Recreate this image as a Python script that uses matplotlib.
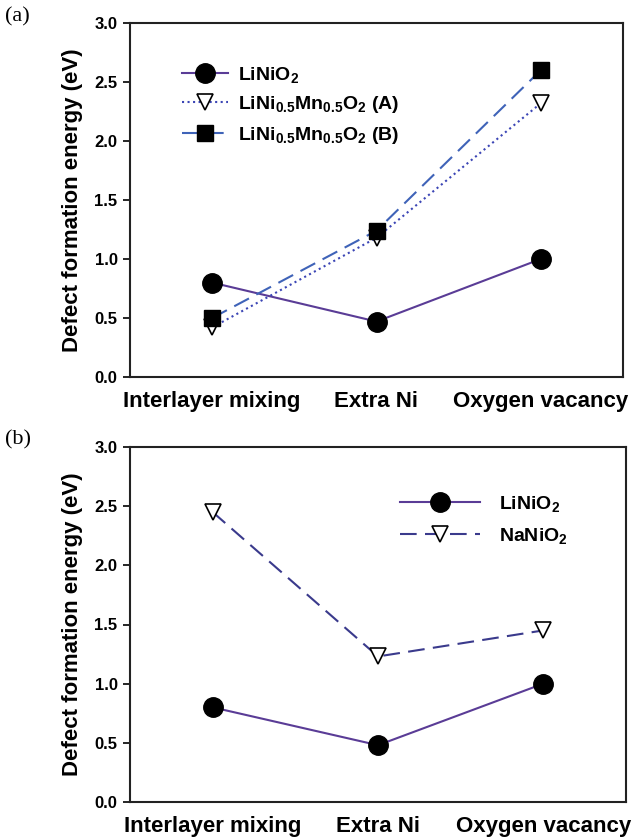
import matplotlib
matplotlib.use("Agg")
import matplotlib.pyplot as plt

plt.rcParams['font.family'] = ['Liberation Sans', 'DejaVu Sans']
plt.rcParams['font.weight'] = 'bold'
plt.rcParams['mathtext.fontset'] = 'custom'
plt.rcParams['mathtext.bf'] = 'Liberation Sans:bold'
plt.rcParams['mathtext.rm'] = 'Liberation Sans:bold'
plt.rcParams['mathtext.default'] = 'bf'

categories = ["Interlayer mixing", "Extra Ni", "Oxygen vacancy"]
yticks = [0.0, 0.5, 1.0, 1.5, 2.0, 2.5, 3.0]

# Panel (a)
a_linio2 = [0.80, 0.47, 1.00]
a_lnmo_A = [0.42, 1.18, 2.32]
a_lnmo_B = [0.50, 1.24, 2.60]

# Panel (b)
b_linio2 = [0.80, 0.48, 1.00]
b_nanio2 = [2.45, 1.23, 1.45]

W, H = 633, 839
fig = plt.figure(figsize=(W / 100, H / 100), dpi=100)

def px_axes(l, t, r, b):
    return fig.add_axes([l / W, 1 - b / H, (r - l) / W, (b - t) / H])

ax1 = px_axes(130, 23, 623, 377)
ax2 = px_axes(130, 447, 626, 802)

purple = '#5a3c96'
blueA = '#3b45b5'
blueB = '#3f63b8'
navy = '#3a3a8c'

x = list(range(len(categories)))

ax1.plot(x, a_linio2, '-', color=purple, lw=1.5, marker='o', ms=14,
         mfc='black', mec='black', label=r'LiNiO$_2$', zorder=3)
ax1.plot(x, a_lnmo_A, ':', color=blueA, lw=1.5, marker='v', ms=12,
         mfc='white', mec='black', mew=1.2, label=r'LiNi$_{0.5}$Mn$_{0.5}$O$_2$ (A)', zorder=3)
ax1.plot(x, a_lnmo_B, '--', color=blueB, lw=1.5, dashes=(8, 4), marker='s', ms=12,
         mfc='black', mec='black', label=r'LiNi$_{0.5}$Mn$_{0.5}$O$_2$ (B)', zorder=4)

ax2.plot(x, b_linio2, '-', color=purple, lw=1.5, marker='o', ms=14,
         mfc='black', mec='black', label=r'LiNiO$_2$', zorder=3)
ax2.plot(x, b_nanio2, '--', color=navy, lw=1.5, dashes=(8, 4), marker='v', ms=12,
         mfc='white', mec='black', mew=1.2, label=r'NaNiO$_2$', zorder=3)

for ax in (ax1, ax2):
    ax.set_xlim(-0.5, 2.5)
    ax.set_ylim(0, 3.0)
    ax.set_yticks(yticks)
    ax.set_yticklabels([f"{v:.1f}" for v in yticks], fontsize=12, fontweight='bold')
    ax.set_xticks(x)
    ax.set_xticklabels(categories, fontsize=16, fontweight='bold')
    ax.tick_params(axis='x', length=0, pad=10)
    ax.tick_params(axis='y', direction='out', length=5, width=1.2, pad=4)
    for s in ax.spines.values():
        s.set_linewidth(1.5)
        s.set_color('#222222')
    ax.set_ylabel('Defect formation energy (eV)', fontsize=16, fontweight='bold', labelpad=8)

leg1 = ax1.legend(loc='upper left', bbox_to_anchor=(0.085, 0.91), frameon=False,
                  fontsize=14, handlelength=2.4, handletextpad=0.5, labelspacing=0.5,
                  borderpad=0)
leg2 = ax2.legend(loc='upper left', bbox_to_anchor=(0.525, 0.895), frameon=False,
                  fontsize=14, handlelength=4.1, handletextpad=1.0, labelspacing=0.6,
                  borderpad=0)

fig.text(5 / W, 1 - 17 / H, '(a)', fontsize=16, fontweight='normal',
         family=['Liberation Serif'], va='center', ha='left')
fig.text(5 / W, 1 - 440 / H, '(b)', fontsize=16, fontweight='normal',
         family=['Liberation Serif'], va='center', ha='left')

fig.savefig('out.png', dpi=100)
